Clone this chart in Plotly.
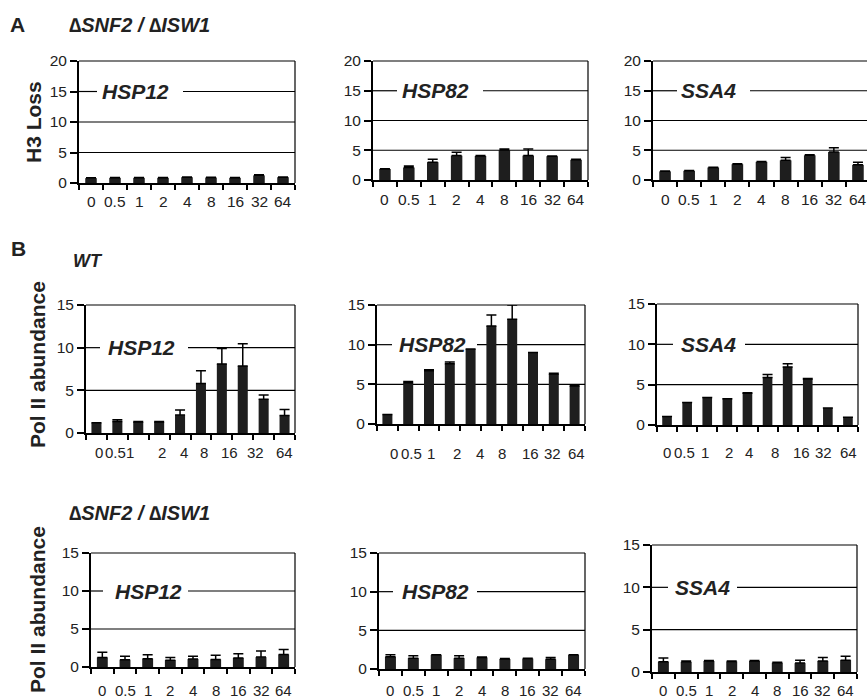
import plotly.graph_objects as go

W, H = 867, 699
FONT = "Liberation Sans, Arial, sans-serif"
BAR = "#1e1e1e"

# ---------------- data ----------------
times = ["0", "0.5", "1", "2", "4", "8", "16", "32", "64"]

h3_hsp12 = [0.8, 0.85, 0.85, 0.85, 0.95, 0.9, 0.85, 1.25, 0.95]
h3_hsp12_err = [0.05, 0.05, 0.05, 0.05, 0.05, 0.05, 0.05, 0.1, 0.05]
h3_hsp82 = [1.85, 2.1, 3.0, 4.1, 4.05, 5.05, 4.1, 4.0, 3.4]
h3_hsp82_err = [0.05, 0.25, 0.5, 0.55, 0.05, 0.15, 1.1, 0.05, 0.1]
h3_ssa4 = [1.45, 1.55, 2.1, 2.65, 3.05, 3.3, 4.15, 4.7, 2.55]
h3_ssa4_err = [0.05, 0.05, 0.05, 0.1, 0.05, 0.5, 0.1, 0.7, 0.45]

wt_hsp12 = [1.2, 1.35, 1.3, 1.3, 2.1, 5.8, 8.1, 7.85, 3.95, 2.05]
wt_hsp12_err = [0.0, 0.2, 0.05, 0.05, 0.6, 1.5, 1.8, 2.6, 0.5, 0.7]
wt_hsp82 = [1.2, 5.2, 6.7, 7.6, 9.45, 12.35, 13.2, 9.0, 6.3, 4.8]
wt_hsp82_err = [0.0, 0.15, 0.15, 0.2, 0.0, 1.4, 1.8, 0.0, 0.1, 0.1]
wt_ssa4 = [1.05, 2.8, 3.4, 3.25, 3.95, 5.9, 7.2, 5.7, 2.1, 0.95]
wt_ssa4_err = [0.0, 0.0, 0.0, 0.0, 0.05, 0.35, 0.4, 0.05, 0.0, 0.0]

# label positions (in bar-index units) of the time labels under WT panels
wt_hsp12_labelpos = [0.14, 0.92, 1.62, 3.15, 4.2, 5.15, 6.36, 7.59, 9.0]
wt_hsp82_labelpos = [0.34, 1.18, 2.1, 3.34, 4.46, 5.53, 6.86, 7.95, 9.1]
wt_ssa4_labelpos = [0.02, 0.87, 1.9, 3.1, 4.1, 5.37, 6.69, 7.76, 9.05]

mut_hsp12 = [1.25, 0.97, 1.1, 0.9, 1.05, 1.0, 1.2, 1.3, 1.65]
mut_hsp12_err = [0.7, 0.45, 0.5, 0.35, 0.35, 0.55, 0.55, 0.8, 0.65]
mut_hsp82 = [1.6, 1.4, 1.8, 1.4, 1.5, 1.3, 1.35, 1.25, 1.8]
mut_hsp82_err = [0.25, 0.3, 0.05, 0.3, 0.05, 0.05, 0.05, 0.25, 0.05]
mut_ssa4 = [1.2, 1.2, 1.3, 1.25, 1.3, 1.1, 1.05, 1.3, 1.4]
mut_ssa4_err = [0.45, 0.1, 0.05, 0.05, 0.05, 0.05, 0.35, 0.4, 0.45]

# ---------------- layout of panels (pixels) ----------------
# box: (left, top, right, bottom) of plot area; lab: label centre distance below axis
panels = [
    dict(v=h3_hsp12, e=h3_hsp12_err, ymax=20, pos=None, box=(79, 61, 295, 183),
         gene="HSP12", gy=15, tx=100, gap=(97, 183), xmax=None, right=True, lab=19, fs=15.5),
    dict(v=h3_hsp82, e=h3_hsp82_err, ymax=20, pos=None, box=(373, 61, 588, 180),
         gene="HSP82", gy=15, tx=400, gap=(397, 483), xmax=None, right=True, lab=19, fs=15.5),
    dict(v=h3_ssa4, e=h3_ssa4_err, ymax=20, pos=None, box=(653, 61, 867, 180),
         gene="SSA4", gy=15, tx=679, gap=(677, 750), xmax=8.375, right=False, lab=19, fs=15.5),
    dict(v=wt_hsp12, e=wt_hsp12_err, ymax=15, pos=wt_hsp12_labelpos, box=(86, 305, 295, 433),
         gene="HSP12", gy=10, tx=106, gap=(100, 188), xmax=None, right=True, lab=19, fs=15),
    dict(v=wt_hsp82, e=wt_hsp82_err, ymax=15, pos=wt_hsp82_labelpos, box=(377, 305, 585, 424),
         gene="HSP82", gy=10, tx=397, gap=(392, 477), xmax=None, right=True, lab=29, fs=15),
    dict(v=wt_ssa4, e=wt_ssa4_err, ymax=15, pos=wt_ssa4_labelpos, box=(657, 304, 858, 425),
         gene="SSA4", gy=10, tx=679, gap=(673, 745), xmax=None, right=True, lab=27, fs=15),
    dict(v=mut_hsp12, e=mut_hsp12_err, ymax=15, pos=None, box=(91, 553, 295, 667),
         gene="HSP12", gy=10, tx=113, gap=(103, 188), xmax=None, right=True, lab=23, fs=15),
    dict(v=mut_hsp82, e=mut_hsp82_err, ymax=15, pos=None, box=(379, 553, 585, 669),
         gene="HSP82", gy=10, tx=400, gap=(393, 477), xmax=None, right=True, lab=21, fs=15),
    dict(v=mut_ssa4, e=mut_ssa4_err, ymax=15, pos=None, box=(652, 545, 857, 672),
         gene="SSA4", gy=10, tx=673, gap=(668, 737), xmax=None, right=True, lab=18, fs=15),
]

fig = go.Figure()
shapes, annotations = [], []
layout = {}
LINE = dict(color="black", width=1.2)
TICKFONT = dict(family=FONT, size=15.5, color="#222")

for i, p in enumerate(panels, start=1):
    xa = "x" if i == 1 else f"x{i}"
    ya = "y" if i == 1 else f"y{i}"
    n = len(p["v"])
    fig.add_trace(go.Bar(
        x=list(range(n)), y=p["v"], xaxis=xa, yaxis=ya, width=0.48,
        marker=dict(color=BAR, line=dict(width=0)),
        error_y=dict(type="data", array=p["e"], arrayminus=[0] * n, symmetric=False,
                     color="black", thickness=1.5, width=5),
        showlegend=False, hoverinfo="skip"))
    l, t, r, b = p["box"]
    xmax = p["xmax"] if p["xmax"] is not None else n - 0.5
    labelpos = p["pos"] if p["pos"] is not None else list(range(len(times)))
    # x axis: ticks at category boundaries; labels drawn as annotations below
    layout["xaxis" if i == 1 else f"xaxis{i}"] = dict(
        domain=[l / W, r / W], anchor=ya, range=[-0.5, xmax],
        tickmode="array", tickvals=[k - 0.5 for k in range(n + 1)],
        ticks="outside", ticklen=5, tickwidth=1.5, tickcolor="black",
        showticklabels=False, automargin=False,
        showline=True, linewidth=2, linecolor="black", showgrid=False, zeroline=False,
        fixedrange=True)
    yt = list(range(0, p["ymax"] + 1, 5))
    layout["yaxis" if i == 1 else f"yaxis{i}"] = dict(
        domain=[1 - b / H, 1 - t / H], anchor=xa, range=[0, p["ymax"]],
        tickmode="array", tickvals=yt,
        ticks="outside", ticklen=7, tickwidth=1.5, tickcolor="black",
        showline=True, linewidth=2, linecolor="black", automargin=False,
        showgrid=False, zeroline=False, tickfont=TICKFONT, fixedrange=True)
    # time labels
    for lp, lt in zip(labelpos, times):
        annotations.append(dict(text=lt, xref=xa, yref=f"{ya} domain", x=lp, y=0,
                                yshift=-p["lab"], xanchor="center", yanchor="middle",
                                showarrow=False, borderpad=0,
                                font=dict(family=FONT, size=p["fs"], color="#222")))
    # top / right frame lines
    shapes.append(dict(type="line", xref=f"{xa} domain", yref=f"{ya} domain",
                       x0=0, x1=1, y0=1, y1=1, line=LINE))
    if p["right"]:
        shapes.append(dict(type="line", xref=f"{xa} domain", yref=f"{ya} domain",
                           x0=1, x1=1, y0=0, y1=1, line=LINE))
    # gridlines (with a gap behind the gene label)
    g0 = (p["gap"][0] - l) / (r - l)
    g1 = (p["gap"][1] - l) / (r - l)
    for gv in yt[1:-1]:
        segs = [(0, g0), (g1, 1)] if gv == p["gy"] else [(0, 1)]
        for a, c in segs:
            shapes.append(dict(type="line", xref=f"{xa} domain", yref=ya,
                               x0=a, x1=c, y0=gv, y1=gv, line=LINE, layer="below"))
    annotations.append(dict(text=f"<b><i>{p['gene']}</i></b>", xref=f"{xa} domain", yref=ya,
                            x=(p["tx"] - l) / (r - l), y=p["gy"], xanchor="left",
                            yanchor="middle", showarrow=False,
                            font=dict(family=FONT, size=21, color="#222")))

def txt(s, x, y, size, angle=0, anchor="left"):
    annotations.append(dict(text=s, xref="paper", yref="paper", x=x / W, y=1 - y / H,
                            xanchor=anchor, yanchor="middle", showarrow=False,
                            textangle=angle, font=dict(family=FONT, size=size, color="#222")))

txt("<b>A</b>", 8, 25, 21)
txt("<b><i>\u2206SNF2 / \u2206ISW1</i></b>", 67, 25, 20)
txt("<b>B</b>", 9, 248, 21)
txt("<b><i>WT</i></b>", 71, 261, 18)
txt("<b><i>\u2206SNF2 / \u2206ISW1</i></b>", 67, 513, 20)
txt("<b>H3 Loss</b>", 33, 122, 21, angle=-90, anchor="center")
txt("<b>Pol II abundance</b>", 37, 365, 21, angle=-90, anchor="center")
txt("<b>Pol II abundance</b>", 37, 610, 21, angle=-90, anchor="center")

fig.update_layout(
    width=W, height=H, margin=dict(l=0, r=0, t=0, b=0, autoexpand=False),
    paper_bgcolor="white", plot_bgcolor="white",
    shapes=shapes, annotations=annotations, bargap=0.5, **layout)

fig.write_html("out.html", config={"displayModeBar": False},
               post_script="document.body.style.margin='0';")
